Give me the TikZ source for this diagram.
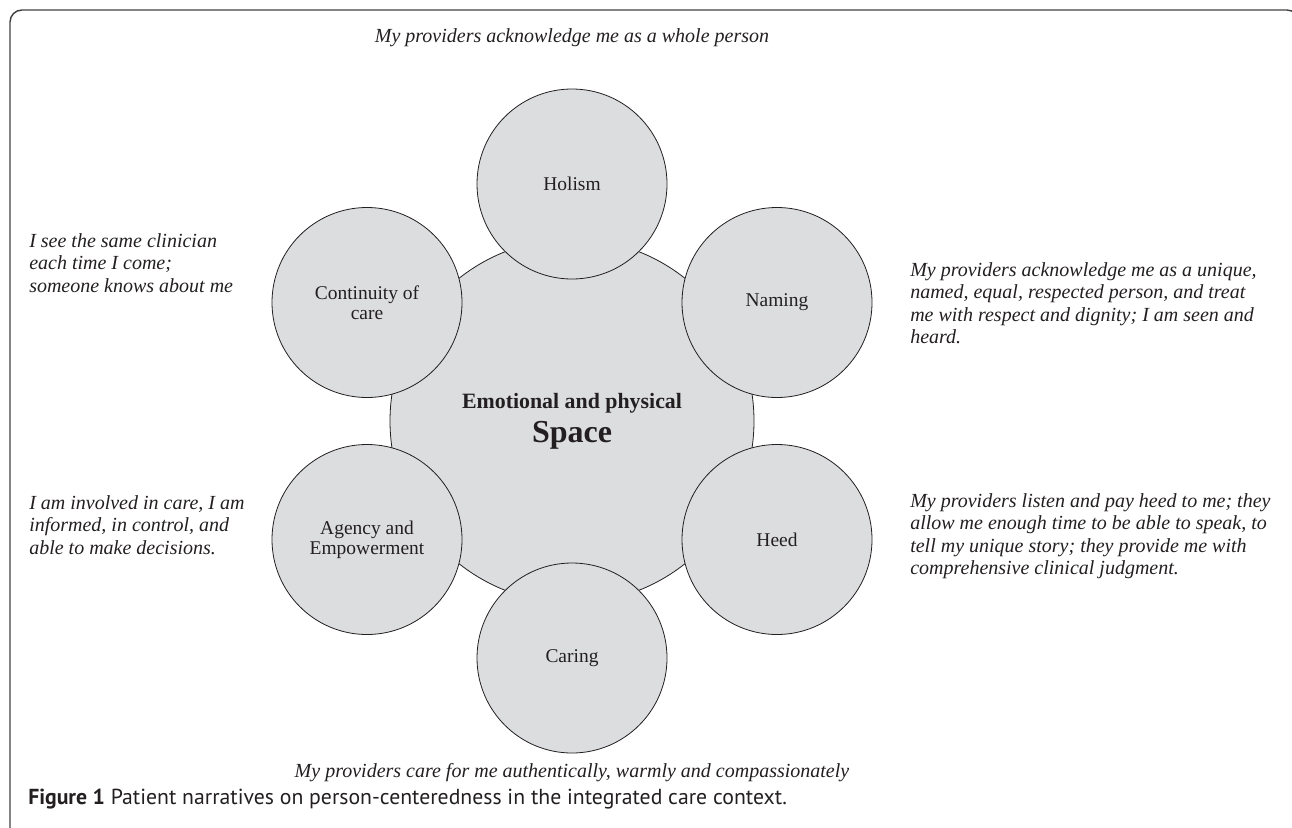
\documentclass[tikz,border=0pt]{standalone}
\usepackage{fontspec}
\setmainfont{Liberation Serif}
\newfontfamily\capfont{PT Sans}
\definecolor{discfill}{HTML}{DCDDDF}
\definecolor{ink}{HTML}{231F20}
\begin{document}
\begin{tikzpicture}[x=0.75pt,y=-0.75pt,
  disc/.style={circle, draw=ink, fill=discfill, line width=0.6pt, inner sep=0pt,
    minimum size=142.5pt, text=ink, align=center,
    font=\fontsize{14.6}{15}\selectfont},
  hub/.style={circle, draw=ink, fill=discfill, line width=0.6pt, inner sep=0pt,
    minimum size=273pt, text=ink, align=center},
  quote/.style={text=ink, align=left, inner sep=0pt,
    font=\fontsize{15}{16.8}\selectfont\itshape},
  cquote/.style={text=ink, align=center, inner sep=0pt,
    font=\fontsize{15}{16.8}\selectfont\itshape}]
\useasboundingbox (0,0) rectangle (1292,828);
\begin{scope}
\clip (0,0) rectangle (1292,828);
\draw[ink!85, line width=1.1pt, rounded corners=9pt] (10,840) -- (10,10) -- (1299,10) -- (1299,840);
\end{scope}
% hub
\node[hub] (space) at (572,421) {};
\node[text=ink, align=center, font=\bfseries] (spacetxt) at (572,421)
  {{\fontsize{16.4}{20}\selectfont Emotional and physical}\\[5pt]
   {\fontsize{24}{28}\selectfont Space}};
% satellites
\node[disc] (holism) at (572,184) {Holism};
\node[disc] (naming) at (777,302.5) {Naming};
\node[disc] (heed) at (777,539.5) {Heed};
\node[disc] (caring) at (572,658) {Caring};
\node[disc] (agency) at (367,539.5) {Agency and\\Empowerment};
\node[disc] (contin) at (367,302.5) {\raisebox{0pt}[\height][\depth]{}Continuity of\\care};
% quotes
\node[cquote] (qtop) at (572,38) {My providers acknowledge me as a whole person};
\node[cquote] (qbot) at (572,773) {My providers care for me authentically, warmly and compassionately};
\node[quote, anchor=west] (qcont) at (29,263) {I see the same clinician\\each time I come;\\someone knows about me};
\node[quote, anchor=west] (qagency) at (29,525) {I am involved in care, I am\\informed, in control, and\\able to make decisions.};
\node[quote, anchor=west] (qnaming) at (910,303) {My providers acknowledge me as a unique,\\named, equal, respected person, and treat\\me with respect and dignity; I am seen and\\heard.};
\node[quote, anchor=west] (qheed) at (910,536) {My providers listen and pay heed to me; they\\allow me enough time to be able to speak, to\\tell my unique story; they provide me with\\comprehensive clinical judgment.};
% caption
\node[anchor=base west, inner sep=0pt, text=ink, font=\capfont\fontsize{16.3}{18}\selectfont] (caption) at (28,804)
  {\textbf{Figure 1} Patient narratives on person-centeredness in the integrated care context.};
\end{tikzpicture}
\end{document}
